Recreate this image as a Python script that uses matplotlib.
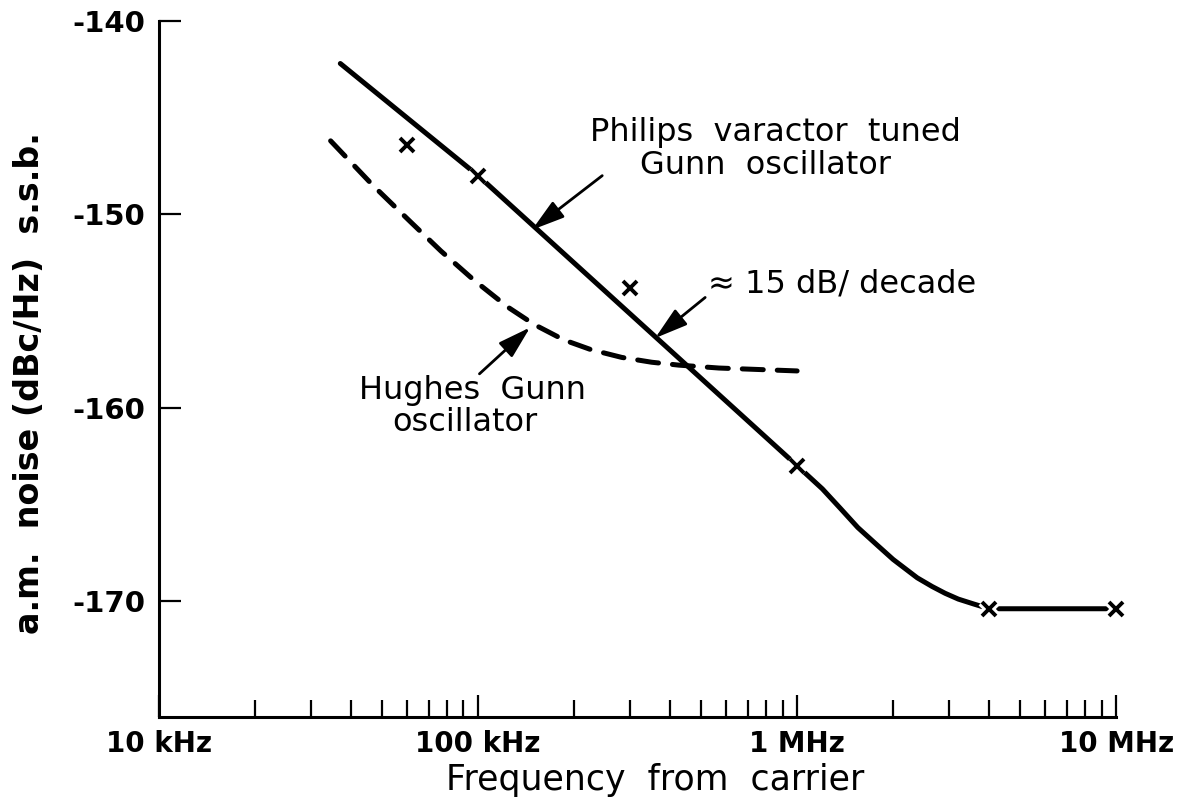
import numpy as np
import matplotlib.pyplot as plt
import matplotlib as mpl
from matplotlib.ticker import FixedLocator, LogLocator, NullFormatter
import matplotlib.patheffects as pe

mpl.rcParams['font.family'] = ['DejaVu Sans']

# Philips varactor tuned Gunn oscillator (solid curve)
philips_f = [37e3, 100e3, 1e6, 1.2e6, 1.365e6, 1.55e6, 1.78e6, 2.0e6, 2.38e6, 2.65e6,
             2.91e6, 3.2e6, 3.57e6, 4e6, 10e6]
philips_db = [-142.2, -148.0, -163.0, -164.2, -165.2, -166.2, -167.1, -167.85, -168.8, -169.25,
              -169.6, -169.9, -170.15, -170.4, -170.4]

# measured points (x marks)
meas_f = [60e3, 100e3, 300e3, 1e6, 4e6, 10e6]
meas_db = [-146.4, -148.0, -153.8, -163.0, -170.4, -170.4]

# Hughes Gunn oscillator (dashed curve)
hughes_f = [34.5e3, 46.8e3, 61.5e3, 76.5e3, 97e3, 124e3, 150e3, 186e3, 226e3,
            282e3, 350e3, 426e3, 569e3, 1e6]
hughes_db = [-146.2, -148.5, -150.4, -151.9, -153.4, -154.8, -155.7, -156.5, -157.0,
             -157.4, -157.65, -157.8, -157.95, -158.1]

xticks = [1e4, 1e5, 1e6, 1e7]
xticklabels = ['10 kHz', '100 kHz', '1 MHz', '10 MHz']
yticks = [-170, -160, -150, -140]

fig = plt.figure(figsize=(11.86, 8.07), dpi=100)
ax = fig.add_axes([0.1341, 0.1115, 0.807, 0.8625])

ax.plot(philips_f, philips_db, color='black', lw=3.6, solid_capstyle='round',
        solid_joinstyle='round', zorder=3, clip_on=False)
ax.plot(hughes_f, hughes_db, color='black', lw=3.6, dashes=(4.2, 2.8),
        dash_capstyle='round', zorder=3)
ax.plot(meas_f, meas_db, ls='none', marker='x', ms=10, mew=2.8, color='black', zorder=4,
        clip_on=False,
        path_effects=[pe.Stroke(linewidth=7, foreground='white'), pe.Normal()])

ax.set_xscale('log')
ax.set_xlim(1e4, 1e7)
ax.set_ylim(-176, -140)

for s in ['top', 'right']:
    ax.spines[s].set_visible(False)
for s in ['left', 'bottom']:
    ax.spines[s].set_linewidth(2.2)

ax.xaxis.set_major_locator(FixedLocator(xticks))
ax.set_xticklabels(xticklabels, fontsize=20, fontweight='bold')
ax.xaxis.set_minor_locator(LogLocator(base=10, subs=np.arange(2, 10)))
ax.xaxis.set_minor_formatter(NullFormatter())
ax.set_yticks(yticks)
ax.set_yticklabels([str(v) for v in yticks], fontsize=21, fontweight='bold')

ax.tick_params(axis='x', which='major', direction='in', length=16, width=1.6, pad=9)
ax.tick_params(axis='x', which='minor', direction='in', length=12, width=1.6)
ax.tick_params(axis='y', which='major', direction='in', length=16, width=1.6, pad=10)
ax.tick_params(axis='y', which='minor', left=False)

ax.set_xlabel('Frequency  from  carrier', fontsize=25)
ax.xaxis.set_label_coords(0.518, -0.09)
ax.xaxis.label.set_verticalalignment('center')
ax.set_ylabel('a.m.  noise (dBc/Hz)  s.s.b.', fontsize=24, fontweight='bold')
ax.yaxis.set_label_coords(-0.135, 0.48)
ax.yaxis.label.set_verticalalignment('center')

arrow = dict(arrowstyle='-|>,head_length=1.0,head_width=0.3', lw=2, color='black',
             shrinkA=0, shrinkB=0, mutation_scale=20)

ax.annotate('', xy=(147.6e3, -150.8), xytext=(245e3, -148.0), arrowprops=arrow)
ax.text(853e3, -145.75, 'Philips  varactor  tuned', fontsize=23, ha='center', va='center')
ax.text(795e3, -147.45, 'Gunn  oscillator', fontsize=23, ha='center', va='center')

ax.annotate('', xy=(359e3, -156.4), xytext=(515e3, -154.3), arrowprops=arrow)
ax.text(526e3, -153.6, '\u2248 15 dB/ decade', fontsize=23, ha='left', va='center')

ax.annotate('', xy=(145.6e3, -155.85), xytext=(101e3, -158.25), arrowprops=arrow)
ax.text(96e3, -159.1, 'Hughes  Gunn', fontsize=23, ha='center', va='center')
ax.text(91e3, -160.75, 'oscillator', fontsize=23, ha='center', va='center')

fig.savefig('out.png', dpi=100)
